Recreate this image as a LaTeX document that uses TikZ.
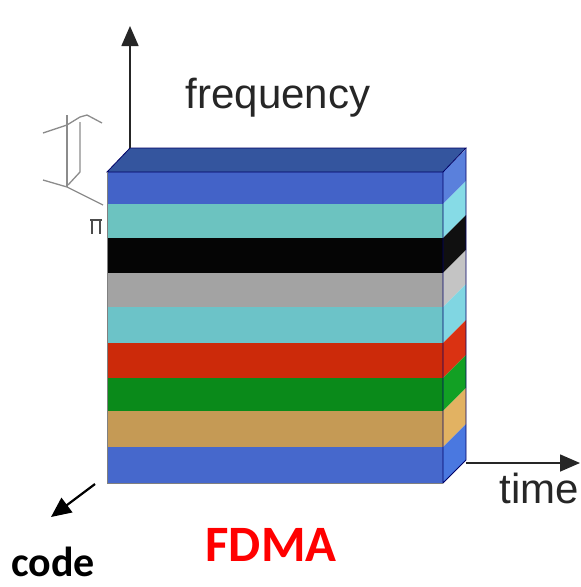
\documentclass[tikz,border=0pt]{standalone}
\usepackage{fontspec}
\setmainfont{Liberation Sans}
\newfontfamily\calib{Carlito}
\usetikzlibrary{arrows.meta}
\definecolor{topblue}{HTML}{34559E}
\definecolor{fblue}{HTML}{4363C8}
\definecolor{sblue}{HTML}{5A80DC}
\definecolor{fteal}{HTML}{6CC3C0}
\definecolor{steal}{HTML}{86DBE6}
\definecolor{fblack}{HTML}{050505}
\definecolor{sblack}{HTML}{101010}
\definecolor{fgray}{HTML}{A3A3A3}
\definecolor{sgray}{HTML}{C4C4C4}
\definecolor{fteal2}{HTML}{6CC3C8}
\definecolor{steal2}{HTML}{80D6E2}
\definecolor{fred}{HTML}{CC2A0A}
\definecolor{sred}{HTML}{DA3212}
\definecolor{fgreen}{HTML}{0A8A1A}
\definecolor{sgreen}{HTML}{12A024}
\definecolor{ftan}{HTML}{C59A55}
\definecolor{stan}{HTML}{E2B262}
\definecolor{fblue2}{HTML}{4668CC}
\definecolor{sblue2}{HTML}{4A78E0}
\definecolor{fdmared}{HTML}{FF0000}
\tikzset{
  axis/.style={line width=1.6pt, draw=black!85, -{Triangle[length=20pt,width=17pt]}},
  codearrow/.style={line width=2.2pt, draw=black, -{Triangle[length=20pt,width=18pt]}},
  sketch/.style={draw=black!45, line width=1.3pt},
  axlabel/.style={font=\fontsize{42}{42}\selectfont, text=black!85, inner sep=0pt},
  boldlabel/.style={font=\calib\bfseries\fontsize{42}{42}\selectfont, inner sep=0pt},
  bandedge/.style={draw=black!35, line width=0.6pt}
}
\begin{document}
\begin{tikzpicture}[x=1pt,y=-1pt]
\fill[white] (0,0) rectangle (581,587);
\useasboundingbox (0,0) rectangle (581,587);
% corners
\coordinate (ftl) at (107,172);
\coordinate (btl) at (130,148);
\coordinate (btr) at (466,148);
\coordinate (ftr) at (443,172);
\coordinate (fbl) at (107,483);
\coordinate (fbr) at (443,483);
\coordinate (bbr) at (466,460);
% faint sketch at left
\draw[sketch] (43,133) -- (67,125) -- (80,117) -- (87,115) -- (102,123);
\draw[sketch] (67,115) -- (67,187);
\draw[sketch] (80,122) -- (80,172) -- (68,185);
\draw[sketch] (43,180) -- (67,187) -- (103,205);
\draw[line width=1.6pt, draw=black!70] (90,220) -- (102,220) (92,220) -- (92,234) (100,220) -- (100,234);
% front bands
\foreach \t/\b/\fc/\sc in {172/204/fblue/sblue,204/238/fteal/steal,238/273/fblack/sblack,273/307/fgray/sgray,307/343/fteal2/steal2,343/378/fred/sred,378/411/fgreen/sgreen,411/447/ftan/stan,447/483/fblue2/sblue2}{
  \fill[\fc] (107,\t) rectangle (443,\b);
  \draw[bandedge] (107,\b) -- (443,\b);
  \fill[\sc] (443,\t) -- (466,\t-23) -- (466,\b-23) -- (443,\b) -- cycle;
}
% top face
\fill[topblue] (ftl) -- (btl) -- (btr) -- (ftr) -- cycle;
\draw[draw=black!60!blue, line width=0.8pt] (ftl) -- (btl) -- (btr) -- (ftr) -- cycle;
\draw[draw=black!60!blue, line width=0.8pt] (ftr) -- (fbr) -- (bbr) -- (btr);
\draw[draw=black!50, line width=0.8pt] (ftl) -- (fbl) -- (fbr);
% axes
\coordinate (ftop) at (130,26);
\coordinate (tend) at (580,463);
\coordinate (tstart) at (466,463);
\coordinate (cstart) at (95,484);
\coordinate (cend) at (51,517);
\draw[axis] (btl) -- (ftop);
\draw[axis] (tstart) -- (tend);
\draw[codearrow] (cstart) -- (cend);
% labels
\node[axlabel, anchor=base] (freq) at (278,108) {frequency};
\node[axlabel, anchor=base] (time) at (539,503) {time};
\node[boldlabel, anchor=base] (code) at (53,576) {code};
\node[font=\calib\bfseries\fontsize{51}{51}\selectfont, text=fdmared, inner sep=0pt, anchor=base] (fdma) at (271,561) {FDMA};
\end{tikzpicture}
\end{document}
